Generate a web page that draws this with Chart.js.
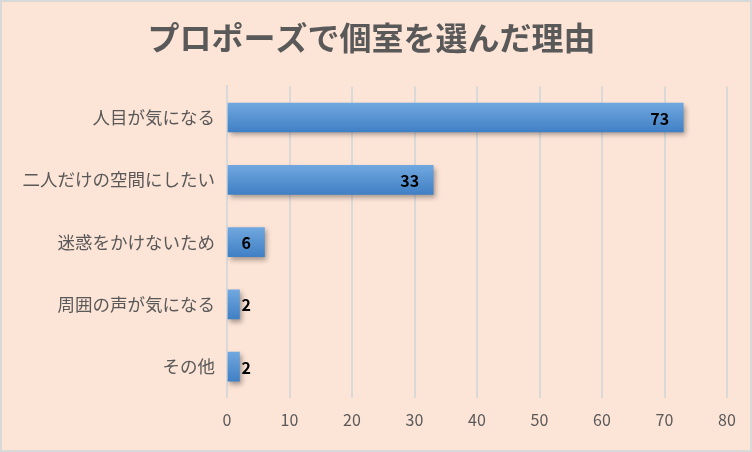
<!DOCTYPE html>
<html>
<head>
<meta charset="utf-8">
<script src="https://cdn.jsdelivr.net/npm/chart.js@4"></script>
<style>
  html, body { margin: 0; padding: 0; background: #FCE4D6; }
  #wrap { width: 752px; height: 452px; position: relative; }
</style>
</head>
<body>
<div id="wrap"><canvas id="reasonChart" width="752" height="452"></canvas></div>
<script>
const titleText = '\u2002プロポーズで個室を選んだ理由';
const categories = ['人目が気になる', '二人だけの空間にしたい', '迷惑をかけないため', '周囲の声が気になる', 'その他'];
const counts = [73, 33, 6, 2, 2];
const xTicks = [0, 10, 20, 30, 40, 50, 60, 70, 80];

const jpFont = '"Noto Sans CJK JP", "Noto Sans", sans-serif';

// background + frame
const frame = {
    id: 'frame',
    beforeDraw(chart) {
        const c = chart.ctx;
        c.save();
        c.fillStyle = '#FCE4D6';
        c.fillRect(0, 0, chart.width, chart.height);
        c.strokeStyle = '#D9D9D9';
        c.lineWidth = 2;
        c.strokeRect(1, 1, chart.width - 2, chart.height - 2);
        c.restore();
    }
};

// drop shadow under the bars
const barShadow = {
    id: 'barShadow',
    beforeDatasetDraw(chart) {
        const c = chart.ctx;
        c.save();
        c.shadowColor = 'rgba(0,0,0,0.35)';
        c.shadowBlur = 5;
        c.shadowOffsetX = 2;
        c.shadowOffsetY = 3;
    },
    afterDatasetDraw(chart) {
        chart.ctx.restore();
    }
};

// value labels: inside end when there is room, else just outside
const valueLabels = {
    id: 'valueLabels',
    afterDatasetsDraw(chart) {
        const c = chart.ctx;
        const meta = chart.getDatasetMeta(0);
        c.save();
        c.font = 'bold 16px ' + jpFont;
        c.fillStyle = '#000';
        c.textBaseline = 'middle';
        meta.data.forEach((bar, i) => {
            const txt = String(counts[i]);
            const w = bar.x - bar.base;
            const tw = c.measureText(txt).width;
            if (w > tw + 30) {
                c.textAlign = 'right';
                c.fillText(txt, bar.x - 14, bar.y + 1);
            } else if (w > tw + 4) {
                c.textAlign = 'center';
                c.fillText(txt, (bar.x + bar.base) / 2, bar.y + 1);
            } else {
                c.textAlign = 'left';
                c.fillText(txt, bar.x + 2, bar.y + 1);
            }
        });
        c.restore();
    }
};

const ctx = document.getElementById('reasonChart').getContext('2d');
new Chart(ctx, {
    type: 'bar',
    data: {
        labels: categories,
        datasets: [{
            data: counts,
            backgroundColor: function(context) {
                const chart = context.chart;
                const yScale = chart.scales.y;
                if (!chart.chartArea || !yScale) return '#5B9BD5';
                const cy = yScale.getPixelForValue(context.dataIndex);
                if (!Number.isFinite(cy)) return '#5B9BD5';
                const g = chart.ctx.createLinearGradient(0, cy - 15, 0, cy + 15);
                g.addColorStop(0, '#71A8E0');
                g.addColorStop(1, '#3F7FC4');
                return g;
            },
            borderWidth: 0,
            barThickness: 29
        }]
    },
    options: {
        indexAxis: 'y',
        responsive: false,
        animation: false,
        layout: { padding: { left: 0, right: 25, top: 0, bottom: 9 } },
        plugins: {
            legend: { display: false },
            tooltip: { enabled: false },
            title: {
                display: true,
                text: titleText,
                color: '#595959',
                align: 'center',
                fullSize: true,
                font: { family: jpFont, size: 32, weight: 'bold' },
                padding: { top: 19, bottom: 29 }
            }
        },
        scales: {
            x: {
                min: 0,
                max: 80,
                afterBuildTicks(axis) {
                    axis.ticks = xTicks.map(v => ({ value: v }));
                },
                grid: { color: '#D9D9D9', lineWidth: 2, drawTicks: false },
                border: { display: false },
                ticks: {
                    color: '#595959',
                    padding: 13,
                    font: { family: jpFont, size: 16 }
                }
            },
            y: {
                grid: { display: false },
                border: { color: '#D9D9D9', width: 2 },
                afterFit(axis) { axis.width = 227; },
                ticks: {
                    color: '#595959',
                    padding: 4,
                    font: { family: jpFont, size: 17.5 }
                }
            }
        }
    },
    plugins: [frame, barShadow, valueLabels]
});
</script>
</body>
</html>
